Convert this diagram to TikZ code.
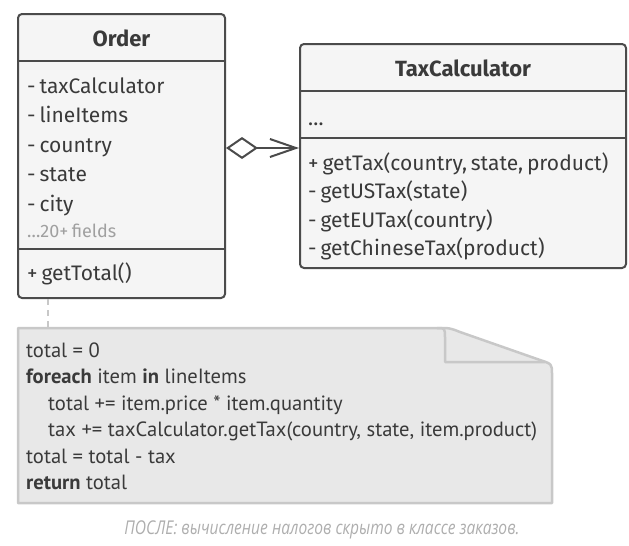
\documentclass[tikz,border=0pt]{standalone}
\usepackage{fontspec}
\setmainfont{Fira Sans}[WordSpace=0.7]
\newfontfamily\notefont{PT Sans}
\newfontfamily\capfont{Open Sans}[FakeStretch=0.82]
\usetikzlibrary{arrows.meta}
\definecolor{linegray}{HTML}{4B4B4B}
\definecolor{boxfill}{HTML}{F5F5F5}
\definecolor{textgray}{HTML}{3A3A3A}
\definecolor{notefill}{HTML}{E8E8E8}
\definecolor{noteline}{HTML}{C8C8C8}
\definecolor{lightgray}{HTML}{A0A0A0}

\begin{document}
\begin{tikzpicture}[x=1pt, y=-1pt]
 \tikzstyle{every node}=[inner sep=0pt, text=textgray, font=\fontsize{21}{25}\selectfont]
 \tikzstyle{classbox}=[draw=linegray, fill=boxfill, line width=2pt, rounded corners=4pt]
 \tikzstyle{sep}=[draw=linegray, line width=2pt]
 \tikzstyle{title}=[font=\fontsize{22}{26}\selectfont\bfseries]
 \tikzstyle{member}=[anchor=base west]
 \tikzstyle{codeline}=[anchor=base west, font=\notefont\fontsize{20.6}{24}\selectfont]
 \useasboundingbox (0,0) rectangle (629,546);

 % Order class
 \node[classbox, minimum width=207pt, minimum height=284pt] (order) at (121.5,156) {};
 \draw[sep] ([yshift=-48pt]order.north west) -- ([yshift=-48pt]order.north east);
 \draw[sep] ([yshift=-236pt]order.north west) -- ([yshift=-236pt]order.north east);
 \node[title] (order-title) at (121.5,38) {Order};
 \node[member] (f1) at (27,93) {- taxCalculator};
 \node[member] (f2) at (27,122.5) {- lineItems};
 \node[member] (f3) at (27,152) {- country};
 \node[member] (f4) at (27,181.5) {- state};
 \node[member] (f5) at (27,211) {- city};
 \node[member, text=lightgray, font=\fontsize{18}{21}\selectfont] (f6) at (27,237) {…20+ fields};
 \node[member] (m1) at (27,280) {+ getTotal()};

 % TaxCalculator class
 \node[classbox, minimum width=326pt, minimum height=224pt] (taxcalc) at (463,156) {};
 \draw[sep] ([yshift=-48pt]taxcalc.north west) -- ([yshift=-48pt]taxcalc.north east);
 \draw[sep] ([yshift=-95pt]taxcalc.north west) -- ([yshift=-95pt]taxcalc.north east);
 \node[title] (taxcalc-title) at (463,68) {TaxCalculator};
 \node[member] (tf1) at (308,125) {…};
 \node[member] (tm1) at (308,170) {+ getTax(country, state, product)};
 \node[member] (tm2) at (308,198.5) {- getUSTax(state)};
 \node[member] (tm3) at (308,227) {- getEUTax(country)};
 \node[member] (tm4) at (308,255.5) {- getChineseTax(product)};

 \draw[draw=linegray, line width=2pt, {Diamond[open, length=32pt, width=22pt]}-{Straight Barb[length=26pt, width=18pt]}]
   ([yshift=8pt]order.east) -- ([yshift=8pt]taxcalc.west);

 % note
 \draw[fill=notefill, draw=noteline, line width=2.5pt, line join=round]
   (18,328) -- (437,328) .. controls (450,328) .. (460,332) -- (540,360)
   .. controls (552,364) .. (552,374) -- (552,503) -- (18,503) -- cycle;
 \draw[draw=noteline, line width=2.5pt, line join=round]
   (437,328) .. controls (445,328) .. (445,338) -- (445,362) -- (545,362);
 \coordinate (note-top) at (48,328);
 \draw[draw=noteline, line width=2pt, dash pattern=on 6pt off 5pt] (order.south -| note-top) -- (note-top);

 \node[codeline] (c1) at (26,357) {total = 0};
 \node[codeline] (c2) at (26,383.5) {\textbf{foreach} item \textbf{in} lineItems};
 \node[codeline] (c3) at (48,410) {total += item.price * item.quantity};
 \node[codeline] (c4) at (48,436.5) {tax += taxCalculator.getTax(country, state, item.product)};
 \node[codeline] (c5) at (26,463) {total = total - tax};
 \node[codeline] (c6) at (26,489.5) {\textbf{return} total};

 \node[anchor=base, text=lightgray!85, font=\capfont\itshape\fontsize{19}{22}\selectfont] (caption) at (322,534)
   {ПОСЛЕ: вычисление налогов скрыто в классе заказов.};
\end{tikzpicture}
\end{document}
